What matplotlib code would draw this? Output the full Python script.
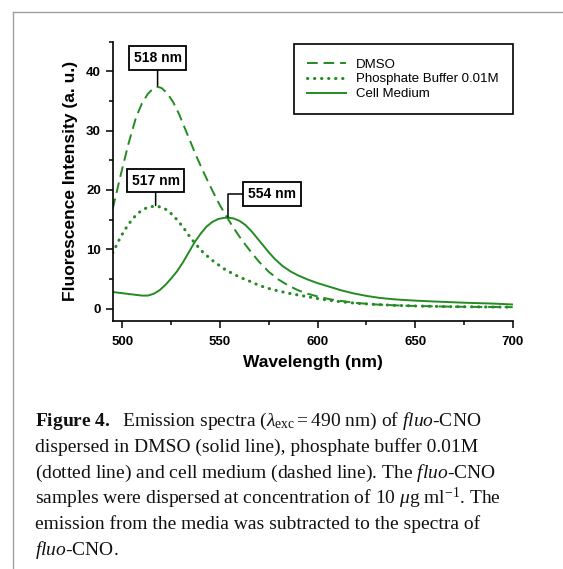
import matplotlib
matplotlib.use('Agg')
import matplotlib.pyplot as plt
from matplotlib.lines import Line2D
from matplotlib.ticker import MultipleLocator

plt.rcParams['font.family'] = ['Liberation Sans', 'DejaVu Sans']
plt.rcParams['mathtext.fontset'] = 'custom'
plt.rcParams['mathtext.rm'] = 'Liberation Serif'
plt.rcParams['mathtext.it'] = 'Liberation Serif:italic'
plt.rcParams['mathtext.bf'] = 'Liberation Serif:bold'

# DMSO (dashed)
dmso_wl = [495, 499, 503, 507, 510, 513, 516, 518, 520, 523, 526, 529, 532, 535, 538,
           541, 544, 547, 550, 553, 556, 559, 562, 566, 570, 575, 580, 585, 590, 595,
           600, 606, 612, 620, 630, 640, 650, 665, 680, 700]
dmso_val = [16.8, 22.4, 27.7, 32.3, 34.6, 36.2, 37.2, 37.4, 37.2, 36.3, 34.8, 32.8, 30.4, 28.0, 25.6,
            23.4, 21.3, 19.3, 17.4, 15.7, 14.1, 12.6, 11.2, 9.5, 7.9, 6.2, 4.9, 3.9, 3.1, 2.5,
            2.05, 1.6, 1.3, 0.95, 0.7, 0.55, 0.45, 0.35, 0.3, 0.25]

# phosphate buffer (dotted)
pb_wl = [495, 498, 501, 504, 507, 510, 513, 517, 520, 523, 526, 529, 532, 535, 538,
         541, 544, 547, 550, 553, 556, 560, 564, 568, 572, 576, 581, 585, 590, 595,
         600, 606, 612, 620, 630, 640, 650, 665, 680, 700]
pb_val = [9.4, 11.4, 13.2, 14.6, 15.8, 16.6, 17.1, 17.3, 17.1, 16.6, 15.7, 14.6, 13.3, 11.9, 10.7,
          9.6, 8.7, 7.9, 7.2, 6.5, 6.0, 5.3, 4.8, 4.2, 3.7, 3.3, 2.9, 2.6, 2.3, 2.0,
          1.7, 1.4, 1.15, 0.9, 0.7, 0.55, 0.45, 0.35, 0.3, 0.25]

# cell medium (solid)
cm_wl = [495, 500, 505, 510, 513, 516, 519, 522, 525, 528, 531, 534, 537, 540, 543,
         546, 549, 552, 554, 557, 560, 563, 566, 569, 572, 575, 578, 582, 586, 590,
         595, 600, 606, 612, 618, 625, 632, 640, 650, 660, 675, 690, 700]
cm_val = [2.8, 2.6, 2.4, 2.2, 2.2, 2.5, 3.1, 4.0, 5.1, 6.3, 7.8, 9.5, 11.2, 12.6, 13.8,
          14.6, 15.1, 15.3, 15.35, 15.2, 14.8, 14.1, 13.1, 11.9, 10.7, 9.5, 8.4, 7.2, 6.3, 5.6,
          4.9, 4.3, 3.7, 3.1, 2.6, 2.15, 1.8, 1.55, 1.35, 1.2, 1.0, 0.85, 0.7]

peak_labels = ['518 nm', '517 nm', '554 nm']
peak_xy = [(518, 37.6), (517, 17.4), (554, 15.4)]
box_xy = [(518, 42.3), (517, 21.6), (576.7, 19.3)]

caption = [
    r'$\mathbf{Figure\ 4.}$  Emission spectra ($\lambda_{\mathrm{exc}} = 490$ nm) of $\mathit{fluo}$-CNO',
    'dispersed in DMSO (solid line), phosphate buffer 0.01M',
    r'(dotted line) and cell medium (dashed line). The $\mathit{fluo}$-CNO',
    r'samples were dispersed at concentration of 10 $\mu$g ml$^{-1}$. The',
    'emission from the media was subtracted to the spectra of',
    r'$\mathit{fluo}$-CNO.',
]

green = '#228b22'
W, H = 563, 569
fig = plt.figure(figsize=(W / 100, H / 100), dpi=100)
ax = fig.add_axes([112.7 / W, (H - 320.5) / H, 400 / W, (320.5 - 41.7) / H])

ax.plot(dmso_wl, dmso_val, color=green, lw=1.4, dashes=(5.5, 3), label='DMSO')
ax.plot(pb_wl, pb_val, color=green, lw=2.2, dashes=(0.1, 2.2), dash_capstyle='round',
        label='Phosphate Buffer 0.01M')
ax.plot(cm_wl, cm_val, color=green, lw=1.4, label='Cell Medium')

ax.set_xlim(495, 700)
ax.set_ylim(-2, 45)
ax.xaxis.set_major_locator(MultipleLocator(50))
ax.xaxis.set_minor_locator(MultipleLocator(25))
ax.yaxis.set_major_locator(MultipleLocator(10))
ax.yaxis.set_minor_locator(MultipleLocator(5))
for s in ['top', 'right']:
    ax.spines[s].set_visible(False)
for s in ['left', 'bottom']:
    ax.spines[s].set_linewidth(1.2)
ax.tick_params(which='major', direction='out', length=5, width=1.1, labelsize=9.5)
ax.tick_params(axis='x', which='major', pad=6)
ax.tick_params(which='minor', direction='out', length=3, width=1.1)
for lab in ax.get_xticklabels() + ax.get_yticklabels():
    lab.set_fontweight('bold')

ax.set_xlabel('Wavelength (nm)', fontsize=12.5, fontweight='bold', labelpad=5)
ax.set_ylabel('Fluorescence Intensity (a. u.)', fontsize=12.5, fontweight='bold', labelpad=6)

for i in range(3):
    if i < 2:
        cs = 'arc3'
    else:
        cs = 'angle,angleA=0,angleB=90,rad=0'
    ax.annotate(peak_labels[i], xy=peak_xy[i], xytext=box_xy[i], ha='center', va='center',
                fontsize=10, fontweight='bold',
                bbox=dict(boxstyle='square,pad=0.35', fc='white', ec='black', lw=1.3),
                arrowprops=dict(arrowstyle='-', color='black', lw=1.1, connectionstyle=cs,
                                shrinkA=0, shrinkB=0))

leg = ax.legend(loc='upper right', bbox_to_anchor=(1.0, 0.99), borderaxespad=0,
                fontsize=9.5, handlelength=2.9, handletextpad=0.8, labelspacing=0.2,
                borderpad=1.05, fancybox=False, framealpha=1)
leg.get_frame().set_edgecolor('black')
leg.get_frame().set_linewidth(1.2)

# caption
base_y = [426, 452, 478, 504, 529, 555]
for line, y in zip(caption, base_y):
    fig.text(35 / W, 1 - y / H, line, fontsize=14, family='Liberation Serif',
             ha='left', va='baseline', color='#111111')

# page frame
fig.add_artist(Line2D([12.5 / W, 12.5 / W], [0, 1 - 12 / H], transform=fig.transFigure,
                      color='#a0a0a0', lw=1))
fig.add_artist(Line2D([12.5 / W, 1], [1 - 12 / H, 1 - 12 / H], transform=fig.transFigure,
                      color='#a0a0a0', lw=1))

fig.savefig('out.png', dpi=100)
